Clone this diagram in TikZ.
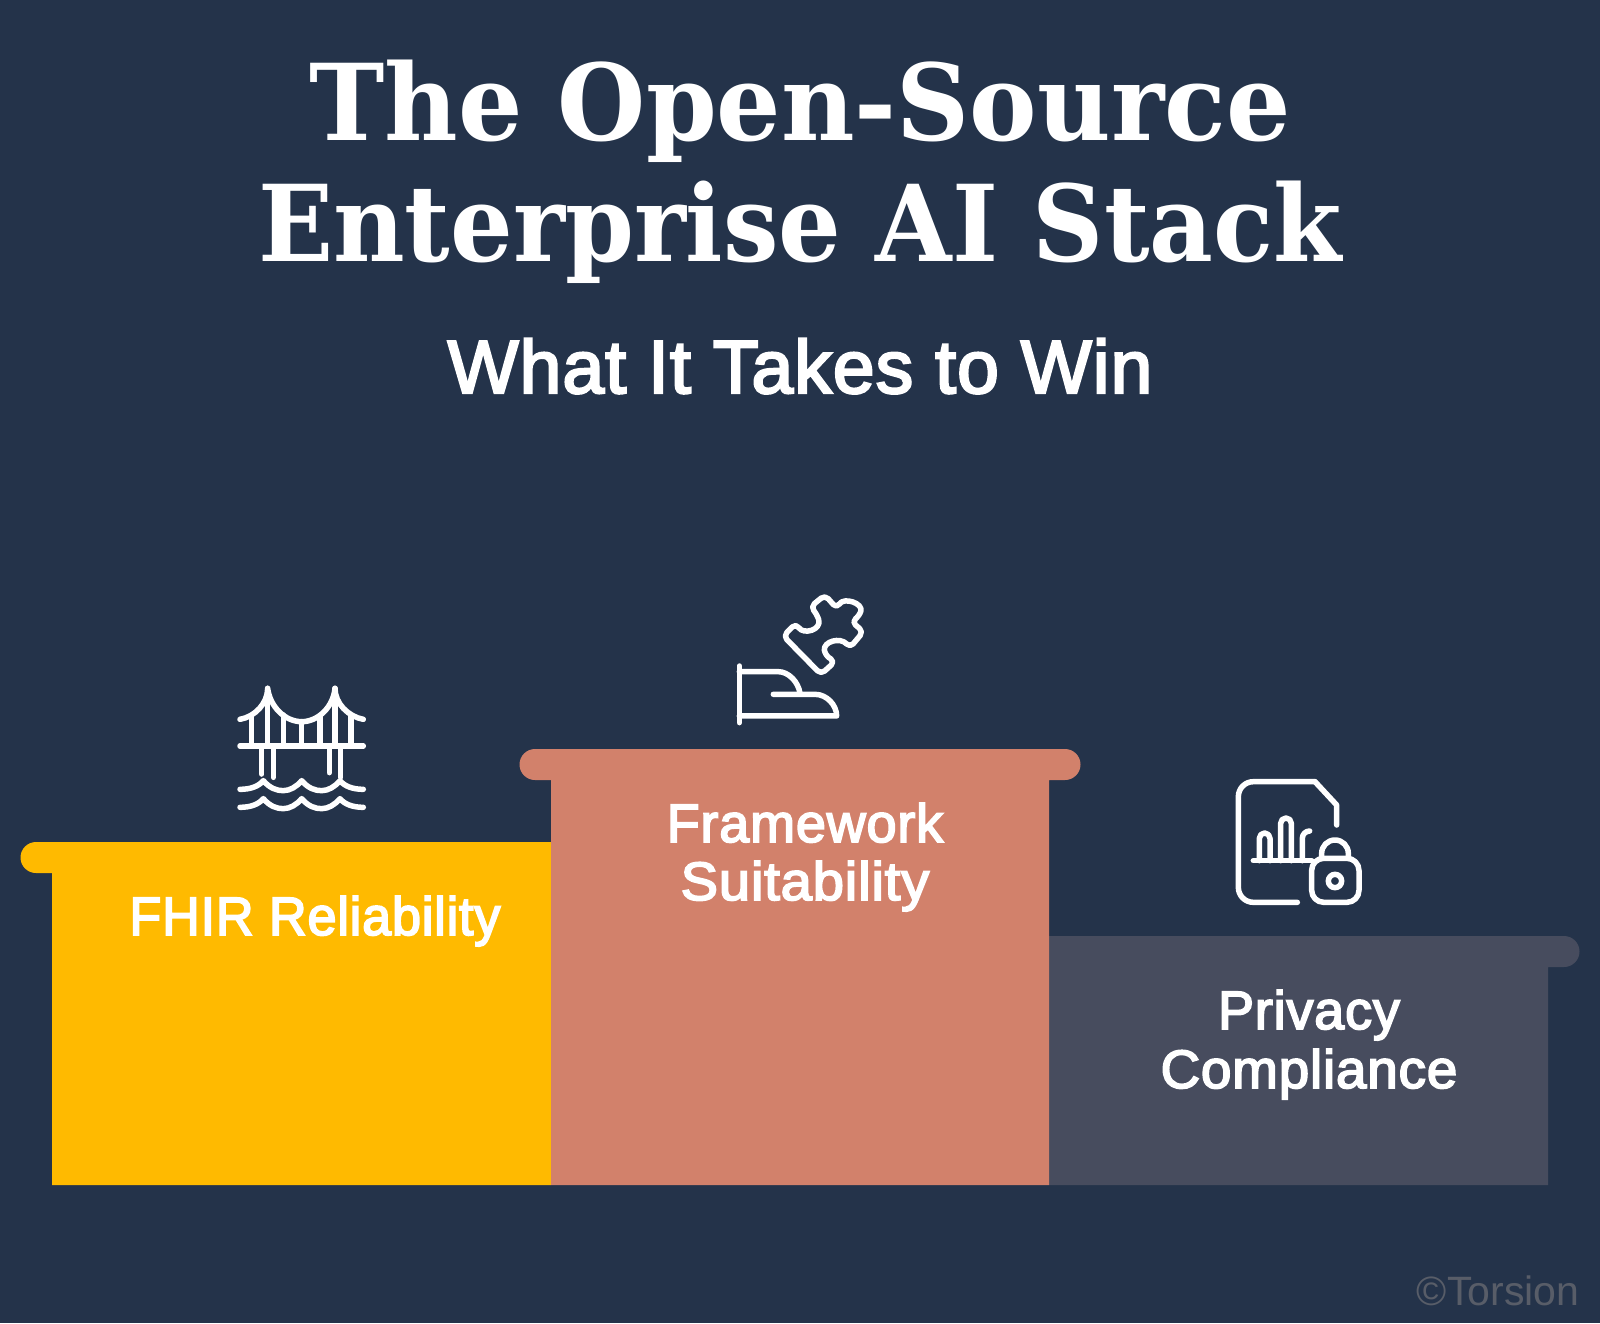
\documentclass[tikz,border=0pt]{standalone}
\usepackage{fontspec}
\setmainfont{Liberation Sans}
\newfontfamily\titlefont{DejaVu Serif}
\newfontfamily\labelfont[FakeBold=3.2, LetterSpace=1.5]{Liberation Sans}
\definecolor{bgnavy}{HTML}{24334A}
\definecolor{stepyellow}{HTML}{FFBA00}
\definecolor{stepsalmon}{HTML}{D2816B}
\definecolor{stepslate}{HTML}{474C5E}
\definecolor{marktext}{HTML}{585D68}
\tikzset{
	titletext/.style={inner sep=0, anchor=base, white, xscale=0.93, transform shape, font=\titlefont\bfseries\fontsize{106}{106}\selectfont},
	subtext/.style={inner sep=0, anchor=base, white, font=\labelfont\fontsize{75}{75}\selectfont},
	steptext/.style={inner sep=0, anchor=base, white, transform shape, font=\labelfont\fontsize{54}{54}\selectfont},
	iconline/.style={draw=white, line width=5.5, line cap=round, line join=round, fill=none},
}
\begin{document}
\begin{tikzpicture}[x=1pt, y=-1pt]
	\useasboundingbox[fill=bgnavy] (0,0) rectangle (1600,1323);

	% Podium blocks
	\fill[stepyellow] (52,1185) -- (52,873) -- (36,873) arc[start angle=90, end angle=270, radius=15.5] -- (551,842) -- (551,1185) -- cycle;
	\fill[stepslate] (1548,1185) -- (1548,967) -- (1564,967) arc[start angle=90, end angle=-90, radius=15.5] -- (1049,936) -- (1049,1185) -- cycle;
	\fill[stepsalmon] (551,1185) -- (551,780) -- (535,780) arc[start angle=90, end angle=270, radius=15.5] -- (1065,749) arc[start angle=270, end angle=450, radius=15.5] -- (1049,780) -- (1049,1185) -- cycle;

	% Title lines
	\node[titletext, xscale=1.027] (titleA) at (800,140) {The Open-Source};
	\node[titletext] (titleB) at (800,261) {Enterprise AI Stack};
	\node[subtext] (subtitle) at (800,393) {What It Takes to Win};

	% Podium labels
	\node[steptext, xscale=0.968] (fhir) at (315,935) {FHIR Reliability};
	\node[steptext] (frameA) at (805,842) {Framework};
	\node[steptext, xscale=1.04] (frameB) at (805,900) {Suitability};
	\node[steptext] (privA) at (1309,1029) {Privacy};
	\node[steptext, xscale=1.015] (privB) at (1309,1088) {Compliance};
	\node[inner sep=0, anchor=base, marktext, font=\fontsize{41}{41}\selectfont] (mark) at (1498,1305) {©Torsion};

	% Bridge icon
	\begin{scope}[shift={(220,670)}, x=0.3333pt, y=-0.3333pt, iconline]
		\draw (60,228) -- (430,228);
		\draw (60,148) .. controls (105,140) and (143,100) .. (143,55) .. controls (150,110) and (195,155) .. (245,155) .. controls (295,155) and (340,110) .. (345,55) .. controls (345,100) and (385,140) .. (430,148);
		\foreach \x/\y in {95/138,143/55,190/135,245/155,300/140,345/55,393/138} {
			\draw (\x,\y) -- (\x,228);
		}
		\foreach \x/\y in {125/312,160/322,328/308,362/322} {
			\draw (\x,228) -- (\x,\y);
		}
		\foreach \y in {0,54} {
			\draw (60,358+\y) .. controls (90,358+\y) and (115,350+\y) .. (130,332+\y) .. controls (150,355+\y) and (170,362+\y) .. (190,362+\y) .. controls (210,362+\y) and (230,350+\y) .. (245,332+\y) .. controls (265,355+\y) and (285,362+\y) .. (305,362+\y) .. controls (325,362+\y) and (345,350+\y) .. (360,332+\y) .. controls (375,350+\y) and (400,358+\y) .. (430,358+\y);
		}
	\end{scope}

	% Hand and puzzle icon
	\begin{scope}[shift={(720,580)}, x=0.3333pt, y=-0.3333pt, iconline]
		\draw (58,258) -- (58,428);
		\draw (58,275) -- (175,275) .. controls (205,275) and (235,305) .. (240,340);
		\draw (160,343) -- (285,343) .. controls (320,343) and (350,375) .. (350,408) -- (58,408);
		\draw[rounded corners=5] (303,283) -- (190,168) -- (228,130) .. controls (250,165) and (305,150) .. (292,105) -- (272,80) -- (315,45) -- (350,85) .. controls (372,50) and (430,70) .. (418,108) -- (395,125) -- (430,155) -- (390,203) .. controls (360,170) and (310,185) .. (315,225) -- (345,245) -- cycle;
	\end{scope}

	% Document and lock icon
	\begin{scope}[shift={(1210,770)}, x=0.3333pt, y=-0.3333pt, iconline]
		\draw[rounded corners=15] (262,397) -- (85,397) -- (85,35) -- (315,35);
		\draw (315,35) -- (380,105) -- (380,165);
		\draw (130,272) -- (305,272);
		\draw (148,272) -- (148,205) arc[start angle=180, end angle=360, radius=16] -- (180,272);
		\draw (212,272) -- (212,160) arc[start angle=180, end angle=360, radius=16] -- (244,272);
		\draw (277,272) -- (277,205) arc[start angle=180, end angle=270, radius=22];
		\draw[rounded corners=12] (305,265) rectangle (447,397);
		\draw (335,265) -- (335,250) arc[start angle=180, end angle=360, radius=40] -- (415,265);
		\draw (375,333) circle (20);
	\end{scope}
\end{tikzpicture}
\end{document}
